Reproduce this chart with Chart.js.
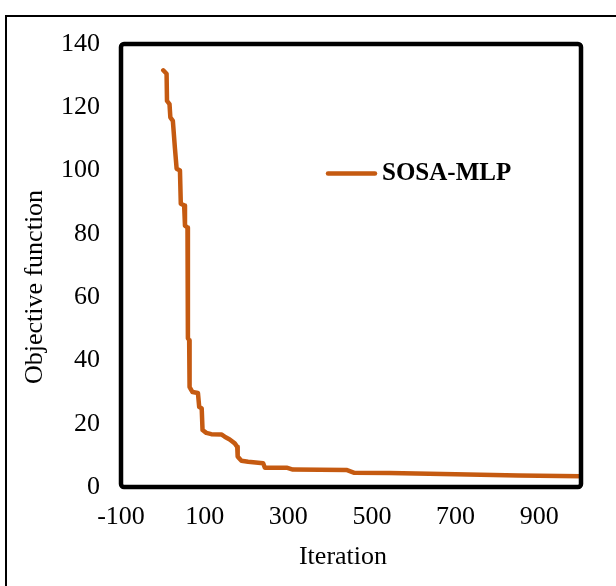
<!DOCTYPE html>
<html>
<head>
<meta charset="utf-8">
<title>SOSA-MLP convergence</title>
<script src="https://cdn.jsdelivr.net/npm/chart.js@4.4.1/dist/chart.umd.min.js"></script>
<style>
  body { margin: 0; background: #fff; }
  #wrap { width: 616px; height: 586px; }
</style>
</head>
<body>
<div id="wrap"><canvas id="convChart" width="616" height="586"></canvas></div>
<script>
// dati
var iterations = [1, 9, 10, 16, 18, 24, 29, 33, 41, 43, 51, 53, 59, 60, 63, 64, 71, 84, 87, 93, 95, 104, 116, 140, 148, 160, 172, 178, 179, 188, 204, 240, 244, 296, 311, 439, 458, 542, 700, 850, 1000];
var objective  = [131.7, 130.6, 122, 121, 116.8, 115.7, 107, 100.6, 100, 89.5, 89, 82.6, 82, 47, 46.4, 31.6, 30, 29.7, 25.3, 24.8, 18, 17.1, 16.7, 16.6, 15.9, 15, 13.8, 12.7, 9.6, 8.3, 8, 7.5, 6.1, 6.1, 5.5, 5.4, 4.5, 4.4, 4.0, 3.6, 3.4];
var xTicks = [-100, 100, 300, 500, 700, 900];
var yTicks = [0, 20, 40, 60, 80, 100, 120, 140];
var seriesName = 'SOSA-MLP';
var xTitle = 'Iteration';
var yTitle = 'Objective function';

var serif = '"Liberation Serif", "Times New Roman", serif';
var lineColor = '#C55A11';

// cornice esterna + bordo dell'area del grafico
var framePlugin = {
  id: 'frame',
  beforeDraw: function(chart) {
    var ctx = chart.ctx;
    ctx.save();
    ctx.strokeStyle = '#000';
    ctx.lineWidth = 2;
    ctx.beginPath();
    ctx.moveTo(6, 586);
    ctx.lineTo(6, 16);
    ctx.lineTo(616, 16);
    ctx.stroke();
    ctx.restore();
  },
  afterDatasetsDraw: function(chart) {
    var a = chart.chartArea;
    var ctx = chart.ctx;
    ctx.save();
    ctx.strokeStyle = '#000';
    ctx.lineWidth = 4.5;
    ctx.lineJoin = 'round';
    ctx.beginPath();
    ctx.roundRect(a.left, a.top, a.right - a.left, a.bottom - a.top, 3);
    ctx.stroke();
    ctx.restore();
  }
};

// legenda e titoli degli assi
var legendPlugin = {
  id: 'innerLegend',
  afterDraw: function(chart) {
    var ctx = chart.ctx;
    var ds = chart.data.datasets[0];
    ctx.save();
    ctx.strokeStyle = ds.borderColor;
    ctx.lineWidth = 4.5;
    ctx.lineCap = 'round';
    ctx.beginPath();
    ctx.moveTo(328, 173.5);
    ctx.lineTo(375, 173.5);
    ctx.stroke();
    ctx.fillStyle = '#000';
    ctx.font = 'bold 25px ' + serif;
    ctx.textBaseline = 'middle';
    ctx.fillText(ds.label, 382, 174);

    // titoli
    ctx.font = '26px ' + serif;
    ctx.textAlign = 'center';
    ctx.textBaseline = 'middle';
    ctx.fillText(xTitle, 343, 557);
    ctx.translate(35, 287);
    ctx.rotate(-Math.PI / 2);
    ctx.fillText(yTitle, 0, 0);
    ctx.restore();
  }
};

var chartData = {
  datasets: [{
    label: seriesName,
    data: iterations.map(function(x, i) { return { x: x, y: objective[i] }; }),
    borderColor: lineColor,
    backgroundColor: lineColor,
    borderWidth: 4.5,
    borderCapStyle: 'round',
    borderJoinStyle: 'round',
    pointRadius: 0,
    tension: 0,
    fill: false
  }]
};

var config = {
  type: 'line',
  data: chartData,
  options: {
    responsive: false,
    animation: false,
    layout: { padding: { top: 44, right: 35, left: 0, bottom: 0 } },
    plugins: {
      legend: { display: false },
      tooltip: { enabled: false }
    },
    scales: {
      x: {
        type: 'linear',
        min: -100,
        max: 1000,
        grid: { display: false },
        border: { display: false },
        afterBuildTicks: function(scale) {
          scale.ticks = xTicks.map(function(v) { return { value: v }; });
        },
        afterFit: function(scale) { scale.height = 99; },
        ticks: {
          autoSkip: false,
          maxRotation: 0,
          padding: 7,
          color: '#000',
          font: { family: serif, size: 26 }
        }
      },
      y: {
        min: 0,
        max: 140,
        grid: { display: false },
        border: { display: false },
        afterBuildTicks: function(scale) {
          scale.ticks = yTicks.map(function(v) { return { value: v }; });
        },
        afterFit: function(scale) { scale.width = 121; },
        ticks: {
          padding: 13,
          color: '#000',
          font: { family: serif, size: 26 }
        }
      }
    }
  },
  plugins: [framePlugin, legendPlugin]
};

var convCanvas = document.getElementById('convChart').getContext('2d');
new Chart(convCanvas, config);
</script>
</body>
</html>
